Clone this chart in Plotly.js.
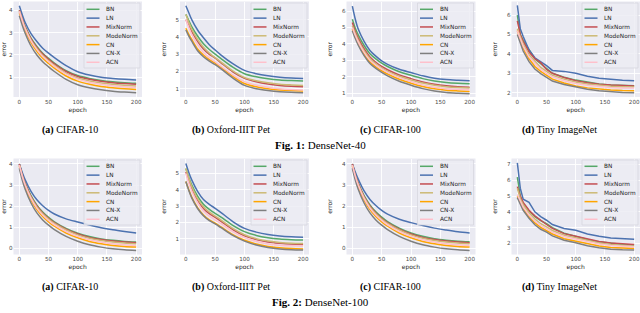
<!DOCTYPE html>
<html><head><meta charset="utf-8">
<script src="https://cdn.plot.ly/plotly-3.0.1.min.js"></script>
<style>html,body{margin:0;padding:0;background:#fff}#chart{width:640px;height:313px}</style>
</head><body><div id="chart"></div>
<script>
// ---------------- data ----------------
const epochs = [0, 5, 10, 20, 30, 40, 50, 60, 80, 100, 120, 140, 160, 180, 200];
const methods = ['BN', 'LN', 'MixNorm', 'ModeNorm', 'CN', 'CN-X', 'ACN'];
const datasets = ['CIFAR-10', 'Oxford-IIIT Pet', 'CIFAR-100', 'Tiny ImageNet'];
const subLetters = ['(a)', '(b)', '(c)', '(d)'];
const figLabels = ['Fig. 1:', 'Fig. 2:'];
const figNames = ['DenseNet-40', 'DenseNet-100'];
const xTickVals = [0, 50, 100, 150, 200];

// rows follow methods order: BN, LN, MixNorm, ModeNorm, CN, CN-X, ACN
const d40_cifar10 = [
  [4.0, 3.62, 3.28, 2.75, 2.38, 2.08, 1.85, 1.64, 1.3, 1.08, 0.95, 0.86, 0.8, 0.76, 0.73],
  [4.2, 3.8, 3.45, 2.95, 2.6, 2.3, 2.08, 1.88, 1.52, 1.25, 1.1, 1.0, 0.95, 0.91, 0.88],
  [4.0, 3.6, 3.25, 2.72, 2.34, 2.04, 1.81, 1.6, 1.26, 1.04, 0.91, 0.82, 0.76, 0.72, 0.69],
  [3.95, 3.56, 3.2, 2.66, 2.28, 1.97, 1.74, 1.53, 1.19, 0.97, 0.84, 0.75, 0.69, 0.64, 0.61],
  [3.9, 3.48, 3.12, 2.56, 2.16, 1.85, 1.62, 1.41, 1.06, 0.83, 0.69, 0.59, 0.53, 0.49, 0.46],
  [3.75, 3.33, 2.97, 2.4, 2.0, 1.7, 1.47, 1.26, 0.91, 0.67, 0.53, 0.44, 0.38, 0.34, 0.31],
  [3.95, 3.54, 3.18, 2.63, 2.24, 1.93, 1.7, 1.49, 1.14, 0.92, 0.78, 0.69, 0.62, 0.58, 0.55]
];
const d40_pet = [
  [5.3, 4.95, 4.6, 4.05, 3.6, 3.27, 3.0, 2.74, 2.25, 1.87, 1.69, 1.58, 1.51, 1.47, 1.44],
  [5.8, 5.4, 5.0, 4.4, 3.95, 3.55, 3.24, 2.95, 2.45, 2.06, 1.87, 1.75, 1.67, 1.62, 1.59],
  [5.0, 4.65, 4.3, 3.75, 3.3, 2.99, 2.77, 2.5, 1.98, 1.6, 1.4, 1.27, 1.19, 1.14, 1.11],
  [5.3, 4.85, 4.45, 3.85, 3.4, 3.06, 2.8, 2.54, 2.03, 1.65, 1.46, 1.34, 1.26, 1.22, 1.19],
  [4.5, 4.15, 3.85, 3.3, 2.95, 2.68, 2.48, 2.24, 1.72, 1.3, 1.11, 1.0, 0.93, 0.89, 0.87],
  [4.4, 4.05, 3.75, 3.2, 2.85, 2.6, 2.39, 2.15, 1.62, 1.19, 1.0, 0.9, 0.83, 0.79, 0.77],
  [5.0, 4.55, 4.15, 3.55, 3.1, 2.8, 2.56, 2.3, 1.8, 1.41, 1.21, 1.09, 1.0, 0.95, 0.92]
];
const d40_cifar100 = [
  [5.5, 4.95, 4.55, 3.9, 3.4, 3.08, 2.82, 2.62, 2.3, 2.08, 1.88, 1.74, 1.65, 1.6, 1.57],
  [6.3, 5.5, 4.9, 4.15, 3.6, 3.25, 2.96, 2.75, 2.45, 2.25, 2.05, 1.9, 1.82, 1.78, 1.75],
  [5.3, 4.75, 4.35, 3.7, 3.2, 2.88, 2.62, 2.42, 2.1, 1.88, 1.68, 1.54, 1.45, 1.39, 1.36],
  [5.1, 4.62, 4.22, 3.58, 3.1, 2.78, 2.54, 2.34, 2.02, 1.8, 1.61, 1.48, 1.39, 1.34, 1.31],
  [4.9, 4.42, 4.02, 3.38, 2.9, 2.6, 2.36, 2.16, 1.84, 1.6, 1.4, 1.26, 1.17, 1.13, 1.1],
  [4.8, 4.32, 3.92, 3.28, 2.8, 2.5, 2.26, 2.05, 1.72, 1.48, 1.27, 1.12, 1.03, 0.99, 0.96],
  [5.0, 4.52, 4.12, 3.48, 3.0, 2.7, 2.46, 2.26, 1.94, 1.7, 1.5, 1.36, 1.27, 1.23, 1.2]
];
const d40_tiny = [
  [6.0, 5.0, 4.7, 4.2, 3.75, 3.5, 3.25, 3.0, 2.8, 2.65, 2.55, 2.45, 2.4, 2.37, 2.36],
  [6.5, 5.3, 4.9, 4.2, 3.8, 3.6, 3.4, 3.15, 3.1, 3.0, 2.85, 2.75, 2.68, 2.64, 2.62],
  [5.7, 5.0, 4.65, 4.1, 3.75, 3.55, 3.2, 3.0, 2.78, 2.62, 2.52, 2.44, 2.4, 2.37, 2.35],
  [5.3, 4.85, 4.5, 3.95, 3.6, 3.3, 3.1, 2.9, 2.7, 2.55, 2.45, 2.38, 2.33, 2.31, 2.3],
  [5.2, 4.7, 4.3, 3.75, 3.35, 3.1, 2.9, 2.7, 2.5, 2.35, 2.25, 2.18, 2.14, 2.11, 2.1],
  [5.0, 4.55, 4.15, 3.6, 3.22, 2.98, 2.8, 2.6, 2.42, 2.3, 2.18, 2.1, 2.04, 2.01, 2.0],
  [5.2, 4.75, 4.4, 3.85, 3.5, 3.2, 3.0, 2.82, 2.62, 2.48, 2.38, 2.31, 2.27, 2.25, 2.24]
];
const d100_cifar10 = [
  [4.0, 3.5, 3.1, 2.5, 2.05, 1.72, 1.47, 1.26, 0.95, 0.72, 0.56, 0.45, 0.38, 0.33, 0.3],
  [4.0, 3.6, 3.25, 2.7, 2.3, 2.02, 1.8, 1.63, 1.4, 1.25, 1.11, 0.98, 0.88, 0.8, 0.73],
  [4.0, 3.48, 3.07, 2.46, 2.01, 1.68, 1.43, 1.22, 0.91, 0.68, 0.52, 0.42, 0.35, 0.3, 0.27],
  [3.95, 3.44, 3.03, 2.42, 1.97, 1.64, 1.39, 1.18, 0.87, 0.64, 0.48, 0.37, 0.3, 0.25, 0.22],
  [3.9, 3.36, 2.93, 2.3, 1.84, 1.51, 1.26, 1.05, 0.73, 0.5, 0.33, 0.22, 0.14, 0.09, 0.06],
  [3.8, 3.24, 2.8, 2.15, 1.68, 1.35, 1.1, 0.89, 0.57, 0.34, 0.17, 0.06, -0.02, -0.07, -0.1],
  [3.95, 3.42, 3.0, 2.37, 1.91, 1.58, 1.33, 1.12, 0.8, 0.57, 0.41, 0.3, 0.22, 0.17, 0.14]
];
const d100_pet = [
  [5.3, 4.75, 4.3, 3.6, 3.1, 2.8, 2.55, 2.32, 1.82, 1.43, 1.2, 1.06, 0.98, 0.94, 0.92],
  [5.6, 5.05, 4.6, 3.9, 3.4, 3.1, 2.86, 2.6, 2.05, 1.63, 1.4, 1.25, 1.16, 1.11, 1.08],
  [5.1, 4.55, 4.08, 3.35, 2.85, 2.53, 2.3, 2.06, 1.56, 1.18, 0.95, 0.8, 0.72, 0.67, 0.65],
  [5.3, 4.7, 4.2, 3.45, 2.95, 2.62, 2.38, 2.14, 1.63, 1.24, 1.0, 0.85, 0.77, 0.72, 0.7],
  [4.5, 4.0, 3.55, 2.9, 2.45, 2.15, 1.95, 1.72, 1.25, 0.9, 0.67, 0.52, 0.44, 0.39, 0.37],
  [4.5, 3.95, 3.5, 2.85, 2.4, 2.1, 1.9, 1.67, 1.2, 0.85, 0.61, 0.46, 0.37, 0.32, 0.3],
  [5.0, 4.4, 3.92, 3.2, 2.7, 2.38, 2.15, 1.92, 1.43, 1.06, 0.83, 0.68, 0.6, 0.56, 0.55]
];
const d100_cifar100 = [
  [4.0, 3.5, 3.1, 2.5, 2.06, 1.73, 1.48, 1.27, 0.96, 0.73, 0.57, 0.46, 0.39, 0.34, 0.31],
  [4.0, 3.62, 3.28, 2.72, 2.32, 2.03, 1.8, 1.62, 1.38, 1.22, 1.08, 0.96, 0.87, 0.79, 0.73],
  [4.0, 3.48, 3.07, 2.46, 2.01, 1.68, 1.43, 1.22, 0.91, 0.68, 0.52, 0.42, 0.35, 0.3, 0.27],
  [3.95, 3.44, 3.03, 2.42, 1.97, 1.64, 1.39, 1.18, 0.87, 0.64, 0.48, 0.37, 0.3, 0.25, 0.22],
  [3.9, 3.36, 2.93, 2.3, 1.84, 1.51, 1.26, 1.05, 0.73, 0.5, 0.33, 0.22, 0.14, 0.09, 0.06],
  [3.8, 3.24, 2.8, 2.15, 1.68, 1.35, 1.1, 0.89, 0.57, 0.34, 0.17, 0.06, -0.02, -0.07, -0.1],
  [3.95, 3.42, 3.0, 2.37, 1.91, 1.58, 1.33, 1.12, 0.8, 0.57, 0.41, 0.3, 0.22, 0.17, 0.14]
];
const d100_tiny = [
  [6.2, 5.0, 4.5, 4.05, 3.7, 3.45, 3.26, 3.0, 2.65, 2.45, 2.25, 2.1, 2.0, 1.94, 1.9],
  [7.1, 5.5, 4.8, 4.6, 4.0, 3.7, 3.47, 3.2, 2.95, 2.84, 2.6, 2.45, 2.35, 2.3, 2.27],
  [5.6, 5.0, 4.6, 4.1, 3.75, 3.45, 3.2, 2.95, 2.62, 2.45, 2.28, 2.13, 2.03, 1.97, 1.94],
  [5.5, 4.85, 4.45, 3.95, 3.55, 3.25, 3.05, 2.82, 2.52, 2.35, 2.17, 2.03, 1.93, 1.86, 1.83],
  [5.0, 4.6, 4.2, 3.7, 3.3, 3.02, 2.82, 2.6, 2.3, 2.14, 1.98, 1.84, 1.75, 1.7, 1.68],
  [4.9, 4.5, 4.1, 3.6, 3.18, 2.9, 2.72, 2.48, 2.2, 2.05, 1.86, 1.73, 1.64, 1.6, 1.58],
  [5.1, 4.7, 4.3, 3.8, 3.42, 3.15, 2.95, 2.72, 2.44, 2.28, 2.1, 1.97, 1.87, 1.81, 1.79]
];
const panelData = [
  [d40_cifar10, d40_pet, d40_cifar100, d40_tiny],
  [d100_cifar10, d100_pet, d100_cifar100, d100_tiny]
];

// ---------------- styles & layout geometry ----------------
const colors = ['#55A868', '#4C72B0', '#C44E52', '#CCB974', '#FFA500', '#7f7f7f', '#FFC0CB'];
const W = 640, H = 313;
const colPx = [[13.5, 142], [180, 309], [346.5, 475.5], [511.5, 640]];
const rowPx = [[1.5, 97], [158.5, 254.5]];
const yRanges = [
  [[0.12, 4.39], [0.52, 6.05], [0.76, 6.58], [1.78, 6.7]],
  [[-0.29, 4.26], [0.03, 5.91], [-0.29, 4.26], [1.3, 7.38]]
];
const capX = [70.3, 231, 390, 559];
const capY = [129.7, 286.5];
const figY = [145, 302];
const textCol = '#262626';
const px = v => v / W;
const py = v => 1 - v / H;

const traces = [];
const layout = {
  width: W, height: H,
  margin: {l: 0, r: 0, t: 0, b: 0},
  paper_bgcolor: '#ffffff',
  plot_bgcolor: '#EAEAF2',
  showlegend: false,
  font: {family: 'DejaVu Sans', color: textCol},
  shapes: [], annotations: []
};

for (let r = 0; r < 2; r++) {
  for (let c = 0; c < 4; c++) {
    const k = r * 4 + c + 1;
    const sfx = k === 1 ? '' : String(k);
    const data = panelData[r][c];
    const shape = c === 3 ? 'linear' : 'spline';
    for (let m = 0; m < methods.length; m++) {
      traces.push({
        x: epochs, y: data[m], xaxis: 'x' + sfx, yaxis: 'y' + sfx,
        type: 'scatter', mode: 'lines', name: methods[m],
        line: {color: colors[m], width: 1.5, shape: shape, smoothing: 0.8},
        hoverinfo: 'skip'
      });
    }
    const [xl, xr] = colPx[c];
    const [yt, yb] = rowPx[r];
    layout['xaxis' + sfx] = {
      domain: [px(xl), px(xr)], anchor: 'y' + sfx, range: [-10, 210],
      tickmode: 'array', tickvals: xTickVals,
      showgrid: true, gridcolor: '#ffffff', gridwidth: 0.9,
      zeroline: false, showline: false, ticks: '',
      tickfont: {family: 'DejaVu Sans', size: 5.6, color: '#4a4a4a'},
      title: {text: 'epoch', font: {family: 'DejaVu Sans', size: 6, color: textCol}, standoff: 3.5},
      fixedrange: true
    };
    layout['yaxis' + sfx] = {
      domain: [py(yb), py(yt)], anchor: 'x' + sfx, range: yRanges[r][c],
      tick0: 0, dtick: 1,
      showgrid: true, gridcolor: '#ffffff', gridwidth: 0.9,
      zeroline: false, showline: false, ticks: '',
      tickfont: {family: 'DejaVu Sans', size: 5.6, color: '#4a4a4a'},
      title: {text: 'error', font: {family: 'DejaVu Sans', size: 6, color: textCol}, standoff: 8},
      fixedrange: true
    };
    // legend box (drawn manually, matplotlib-like compact legend)
    const bx1 = xr - 2, bx0 = bx1 - 56, by0 = yt + 1.5, by1 = by0 + 65;
    layout.shapes.push({
      type: 'rect', xref: 'paper', yref: 'paper',
      x0: px(bx0), x1: px(bx1), y0: py(by1), y1: py(by0),
      fillcolor: 'rgba(236,236,243,0.85)', line: {color: '#d4d4dc', width: 0.7}, layer: 'above'
    });
    for (let m = 0; m < methods.length; m++) {
      const yy = by0 + 6.3 + m * 8.83;
      layout.shapes.push({
        type: 'line', xref: 'paper', yref: 'paper',
        x0: px(bx0 + 2.5), x1: px(bx0 + 15.5), y0: py(yy), y1: py(yy),
        line: {color: colors[m], width: 1.5}, layer: 'above'
      });
      layout.annotations.push({
        xref: 'paper', yref: 'paper', x: px(bx0 + 20), y: py(yy),
        xanchor: 'left', yanchor: 'middle', showarrow: false,
        text: methods[m], font: {family: 'DejaVu Sans', size: 5.8, color: textCol}
      });
    }
    // sub-caption
    layout.annotations.push({
      xref: 'paper', yref: 'paper', x: px(capX[c]), y: py(capY[r]),
      xanchor: 'center', yanchor: 'middle', showarrow: false,
      text: '<b>' + subLetters[c] + '</b> ' + datasets[c],
      font: {family: 'Liberation Serif', size: 10, color: '#000'}
    });
  }
  layout.annotations.push({
    xref: 'paper', yref: 'paper', x: px(320), y: py(figY[r]),
    xanchor: 'center', yanchor: 'middle', showarrow: false,
    text: '<b>' + figLabels[r] + '</b> ' + figNames[r],
    font: {family: 'Liberation Serif', size: 11, color: '#000'}
  });
}

Plotly.newPlot('chart', traces, layout, {staticPlot: true, displayModeBar: false});
</script>
</body></html>
